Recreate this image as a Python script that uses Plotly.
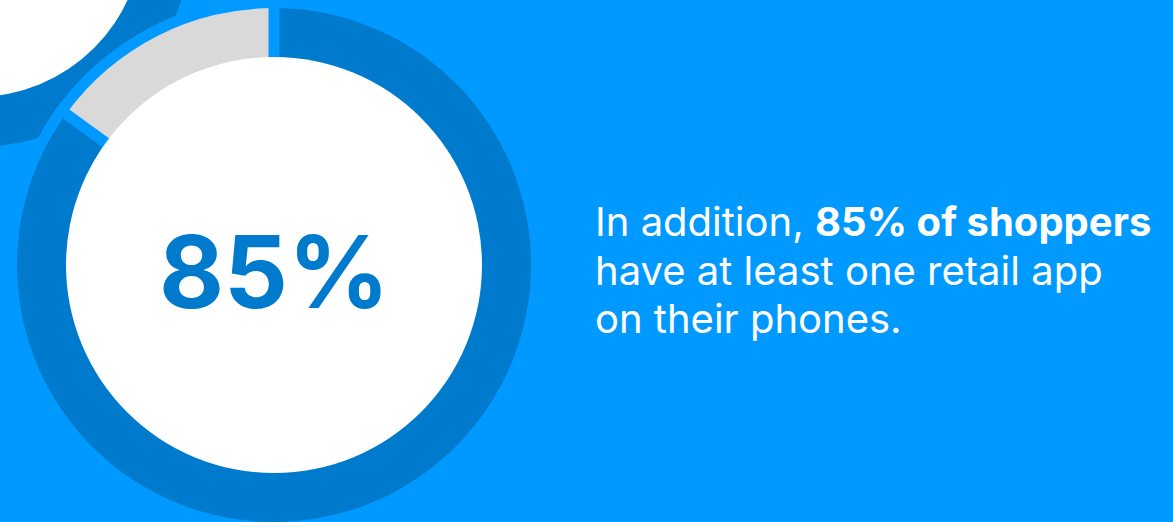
import math
import plotly.graph_objects as go

# ---- data ----
labels = ["Have at least one retail app", "No retail app"]
values = [85, 15]
big_label = "85%"
text_lines = [
    "In addition, <b>85% of shoppers</b>",
    "have at least one retail app",
    "on their phones.",
]

# ---- styles ----
BG = "#0099FF"
DARK = "#007ACC"
GRAY = "#D9D9D9"
W, H = 1173, 522
CX, CY = 274, 265          # donut centre (pixels, y down)
R_OUT, R_IN = 257, 208
GAP = 11
FONT = "Inter"

fig = go.Figure()

fig.add_trace(go.Pie(
    labels=labels, values=values, sort=False, direction="clockwise", rotation=0,
    hole=0.79, marker=dict(colors=[DARK, GRAY], line=dict(width=0)),
    textinfo="none", hoverinfo="skip", showlegend=False,
    domain=dict(x=[(CX - R_OUT) / W, (CX + R_OUT) / W],
                y=[(H - CY - R_OUT) / H, (H - CY + R_OUT) / H]),
))

shapes = []
# decorative partial donut, top-left
shapes.append(dict(type="circle", xref="x", yref="y", layer="below",
                   x0=-24 - 217, x1=-24 + 217, y0=-70 - 217, y1=-70 + 217,
                   fillcolor=DARK, line=dict(width=0)))
shapes.append(dict(type="circle", xref="x", yref="y", layer="below",
                   x0=-24 - 167, x1=-24 + 167, y0=-70 - 167, y1=-70 + 167,
                   fillcolor="white", line=dict(width=0)))
# background band around main donut
RB = R_OUT + 11
shapes.append(dict(type="circle", xref="x", yref="y", layer="below",
                   x0=CX - RB, x1=CX + RB, y0=CY - RB, y1=CY + RB,
                   fillcolor=BG, line=dict(width=0)))
# slice separators derived from the data
total = sum(values)
cum = 0
for v in values:
    th = math.radians(cum / total * 360)
    L = RB
    shapes.append(dict(type="line", xref="x", yref="y", layer="above",
                       x0=CX, y0=CY, x1=CX + L * math.sin(th), y1=CY - L * math.cos(th),
                       line=dict(color=BG, width=GAP)))
    cum += v
# white centre
shapes.append(dict(type="circle", xref="x", yref="y", layer="above",
                   x0=CX - R_IN, x1=CX + R_IN, y0=CY - R_IN, y1=CY + R_IN,
                   fillcolor="white", line=dict(width=0)))

annotations = [dict(x=CX, y=271, xref="x", yref="y", text=f"<b>{big_label}</b>",
                    showarrow=False, xanchor="center", yanchor="middle",
                    font=dict(family=FONT, size=100, color=DARK, weight=800))]
line_y = [221, 270, 318]
for t, y in zip(text_lines, line_y):
    annotations.append(dict(x=593, y=y, xref="x", yref="y", text=t, showarrow=False,
                            xanchor="left", yanchor="middle",
                            font=dict(family=FONT, size=40, color="white")))

fig.update_layout(
    width=W, height=H, margin=dict(l=0, r=0, t=0, b=0),
    paper_bgcolor=BG, plot_bgcolor=BG,
    xaxis=dict(range=[0, W], visible=False, fixedrange=True),
    yaxis=dict(range=[H, 0], visible=False, fixedrange=True),
    shapes=shapes, annotations=annotations, showlegend=False,
)
fig.write_html("out.html")
